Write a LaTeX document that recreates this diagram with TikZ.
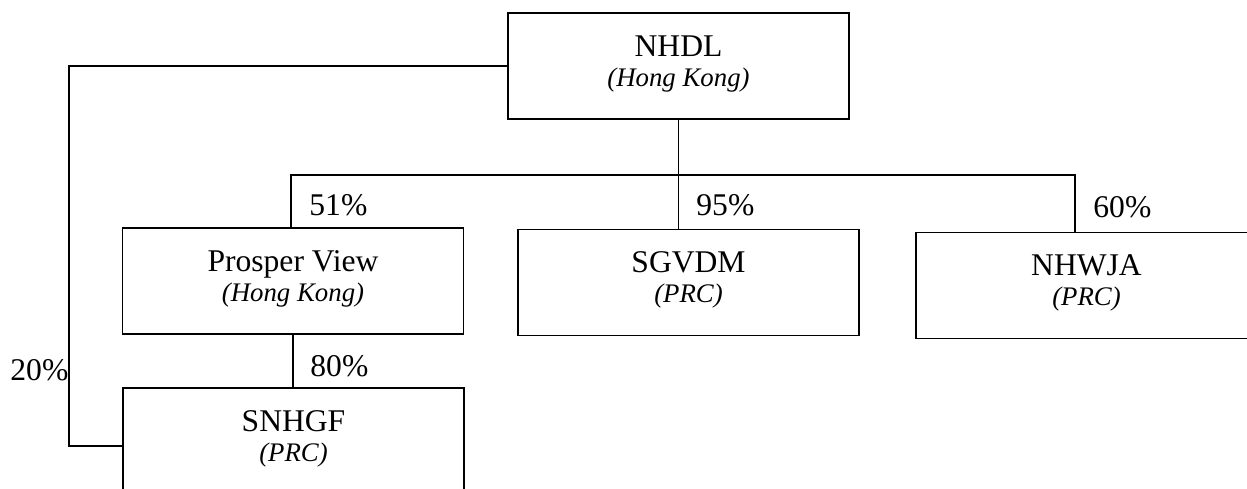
\documentclass[tikz,border=0pt]{standalone}
\usepackage{fontspec}
\setmainfont{Liberation Serif}
\newcommand{\firm}[2]{#1\\{\itshape\fontsize{13.4}{15}\selectfont(#2)}}
\begin{document}
\begin{tikzpicture}[x=0.5pt,y=-0.5pt,
  company/.style={draw,line width=0.65pt,inner sep=0pt,minimum width=170.5pt,
    text height=36.5pt,text depth=16.5pt,align=center,font=\fontsize{15.8}{15}\selectfont},
  share/.style={anchor=base west,inner sep=0pt,font=\fontsize{15.8}{15}\selectfont}]
               \useasboundingbox (0,0) rectangle (1247,488);
               % 会社
               \node [company] (nhdl) at (678.5,66) {\firm{NHDL}{Hong Kong}};
               \node [company] (pv) at (293,281) {\firm{Prosper View}{Hong Kong}};
               \node [company] (sgvdm) at (688.5,282.5) {\firm{SGVDM}{PRC}};
               \node [company] (nhwja) at (1086.5,285.5) {\firm{NHWJA}{PRC}};
               \node [company] (snhgf) at (293.5,441) {\firm{SNHGF}{PRC}};

               % 接続線
               \coordinate (split) at (679,175);
               \coordinate (loop) at (69,446);
               \draw [line width=0.6pt](nhdl.south) -- (nhdl.south |- sgvdm.north);
               \draw [line width=0.6pt]([xshift=-1pt]pv.north) |- (split) -| ([xshift=-5.75pt]nhwja.north);
               \draw [line width=0.6pt](pv.south) -- (pv.south |- snhgf.north);
               \draw [line width=0.6pt](nhdl.west) -| (loop) -- (loop -| snhgf.west);

               % 出資比率
               \node [share] (s51) at (309,215) {51\%};
               \node [share] (s95) at (696,215) {95\%};
               \node [share] (s60) at (1093,217) {60\%};
               \node [share] (s80) at (310,376) {80\%};
               \node [share] (s20) at (10,380) {20\%};
            \end{tikzpicture}
\end{document}
